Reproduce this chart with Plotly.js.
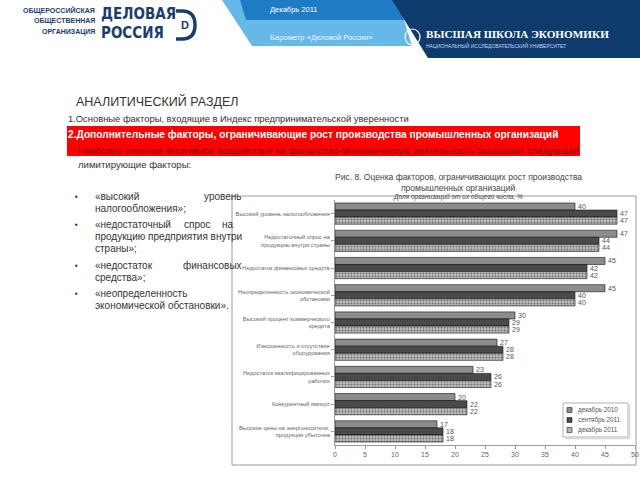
<!DOCTYPE html>
<html><head><meta charset="utf-8">
<script src="https://cdn.plot.ly/plotly-3.0.1.min.js"></script>
<style>html,body{margin:0;padding:0;background:#fff}#c{width:640px;height:480px}</style>
</head><body><div id="c"></div>
<script>
// ---- data ----
var categories = [
  "Высокий уровень налогообложения",
  "Недостаточный спрос на<br>продукцию внутри страны",
  "Недостаток финансовых средств",
  "Неопределенность экономической<br>обстановки",
  "Высокий процент коммерческого<br>кредита",
  "Изношенность и отсутствие<br>оборудования",
  "Недостаток квалифицированных<br>рабочих",
  "Конкурентный импорт",
  "Высокие цены на энергоносители,<br>продукция убыточна"
];
var seriesNames = ["декабрь 2010", "сентябрь 2011", "декабрь 2011"];
var dec2010 = [40, 47, 45, 45, 30, 27, 23, 20, 17];
var sep2011 = [47, 44, 42, 40, 29, 28, 26, 22, 18];
var dec2011 = [47, 44, 42, 40, 29, 28, 26, 22, 18];
var xTicks = [0, 5, 10, 15, 20, 25, 30, 35, 40, 45, 50];

// ---- layout helpers (pixel -> paper) ----
var L = 335, R = 635, T = 200, B = 445;
function px(x){ return (x - L) / (R - L); }
function py(y){ return (B - y) / (B - T); }
var FONT = "Liberation Sans, Arial, sans-serif";
var anns = [];
function ann(text, x, y, o){
  o = o || {};
  anns.push({text: text, xref: "paper", yref: "paper", x: px(x), y: py(y),
    xanchor: o.xa || "left", yanchor: o.ya || "middle", showarrow: false,
    align: o.align || "left",
    font: {family: o.family || FONT, size: o.size || 10, color: o.color || "#333"}});
}
var shapes = [];
function poly(pts, fill){
  var d = pts.map(function(p, i){ return (i ? "L" : "M") + px(p[0]) + "," + py(p[1]); }).join(" ") + " Z";
  shapes.push({type: "path", xref: "paper", yref: "paper", path: d, fillcolor: fill,
    line: {width: 0}, layer: "below"});
}
function rect(x0, y0, x1, y1, fill, line, lw, layer){
  shapes.push({type: "rect", xref: "paper", yref: "paper", x0: px(x0), y0: py(y0), x1: px(x1), y1: py(y1),
    fillcolor: fill, line: {width: lw === undefined ? 0 : lw, color: line || "rgba(0,0,0,0)"}, layer: layer || "below"});
}

// header
poly([[222,0],[398,0],[412,46],[252,46]], "#66b8e8");
poly([[240,0],[398,0],[404,20],[246,20]], "#1f7cc4");
poly([[392,0],[640,0],[640,58],[428,58]], "#0f3b6c");
var NARROW = "DejaVu Sans Condensed, Liberation Sans Narrow, sans-serif";
ann("<b>ОБЩЕРОССИЙСКАЯ</b>", 97, 10, {xa: "right", size: 7, color: "#1b3d6e"});
ann("<b>ОБЩЕСТВЕННАЯ</b>", 97, 21, {xa: "right", size: 7, color: "#1b3d6e"});
ann("<b>ОРГАНИЗАЦИЯ</b>", 97, 32, {xa: "right", size: 7, color: "#1b3d6e"});
ann("<b>ДЕЛОВАЯ</b>", 99, 14, {size: 15, color: "#1b3d6e", family: NARROW});
ann("<b>РОССИЯ</b>", 99, 33, {size: 15, color: "#1b3d6e", family: NARROW});
shapes.push({type: "path", xref: "paper", yref: "paper", layer: "above",
  path: "M" + px(176) + "," + py(11) + " L" + px(182) + "," + py(11) + " Q" + px(195) + "," + py(11) + " " + px(195) + "," + py(25) +
        " Q" + px(195) + "," + py(39) + " " + px(182) + "," + py(39) + " L" + px(176) + "," + py(39),
  fillcolor: "rgba(0,0,0,0)", line: {color: "#1b3d6e", width: 3.5}});
ann("<b>D</b>", 179, 25, {size: 11, color: "#1b3d6e"});
ann("Декабрь 2011", 268, 9, {size: 7.5, color: "#ffffff"});
ann("Барометр «Деловой России»", 268, 37, {size: 7.6, color: "#eaf6ff"});
shapes.push({type: "circle", xref: "paper", yref: "paper", x0: px(405), y0: py(45), x1: px(420), y1: py(29),
  fillcolor: "rgba(0,0,0,0)", line: {color: "#ffffff", width: 1.2}});
ann("<b>ВЫСШАЯ ШКОЛА ЭКОНОМИКИ</b>", 424, 34, {size: 11.2, color: "#ffffff", family: "Liberation Serif, serif"});
ann("НАЦИОНАЛЬНЫЙ ИССЛЕДОВАТЕЛЬСКИЙ УНИВЕРСИТЕТ", 424, 45, {size: 5, color: "#c8d6ea"});

// body text
ann("АНАЛИТИЧЕСКИЙ РАЗДЕЛ", 74, 101, {size: 12.5, color: "#333"});
ann("1.Основные факторы, входящие в Индекс предпринимательской уверенности", 66, 118, {size: 9.4, color: "#333"});
rect(67, 126, 580, 156, "#ff0000");
ann("<b>2.Дополнительные факторы, ограничивающие рост производства промышленных организаций</b>", 66, 134, {size: 10.2, color: "#ffffff"});
ann("Наиболее сильное негативное воздействие на финансово-экономическую деятельность оказывают следующие", 76, 150, {size: 9.6, color: "#7a1010"});
ann("лимитирующие факторы:", 76, 164, {size: 9.6, color: "#333"});

// bullets
[196, 224, 265, 293].forEach(function(y){ ann("▪", 73, y, {size: 8, color: "#222"}); });
ann("«высокий", 93, 196, {size: 10});
ann("уровень", 244, 196, {size: 10, xa: "right"});
ann("налогообложения»;", 93, 208, {size: 10});
ann("«недостаточный", 93, 224, {size: 10});
ann("спрос", 182, 224, {size: 10});
ann("на", 236, 224, {size: 10, xa: "right"});
ann("продукцию предприятия внутри", 93, 236, {size: 10});
ann("страны»;", 93, 248, {size: 10});
ann("«недостаток", 93, 265, {size: 10});
ann("финансовых", 244, 265, {size: 10, xa: "right"});
ann("средства»;", 93, 277, {size: 10});
ann("«неопределенность", 93, 293, {size: 10});
ann("экономической обстановки».", 93, 305, {size: 10});

// chart frame and titles
rect(232, 196, 636, 465, "rgba(0,0,0,0)", "#9a9a9a", 1);
ann("Рис. 8. Оценка факторов, ограничивающих рост производства", 458, 177, {xa: "center", size: 8.5, color: "#444"});
ann("промышленных организаций", 458, 188, {xa: "center", size: 8.5, color: "#444"});
ann("<i>Доля организаций от их общего числа, %</i>", 458, 197, {xa: "center", size: 6.5, color: "#444"});

// manual legend (keys + real text)
var legColors = ["#8c8c8c", "#4a4a4a", "#b4b4b4"];
rect(563, 403, 628, 437, "#ffffff", "#b0b0b0", 1, "above");
shapes.push({type: "line", xref: "paper", yref: "paper", x0: px(565), y0: py(438.5), x1: px(629.5), y1: py(438.5), line: {color: "#d8d8d8", width: 1.5}});
shapes.push({type: "line", xref: "paper", yref: "paper", x0: px(629.5), y0: py(405), x1: px(629.5), y1: py(438.5), line: {color: "#d8d8d8", width: 1.5}});
[410, 420, 430].forEach(function(y, i){
  rect(567, y - 2.5, 572, y + 2.5, legColors[i], "#222", 0.6, "above");
  ann(seriesNames[i], 576, y, {size: 6.3, color: "#555"});
});

function bar(name, vals, color, pattern){
  var m = {color: color, line: {color: "#111", width: 0.6}};
  if (pattern) m.pattern = pattern;
  return {type: "bar", orientation: "h", name: name, x: vals, y: categories,
    marker: m, text: vals.map(String), textposition: "outside", cliponaxis: false,
    textfont: {size: 7, color: "#555", family: FONT}, hoverinfo: "skip"};
}
var data = [
  bar(seriesNames[0], dec2010, legColors[0]),
  bar(seriesNames[1], sep2011, legColors[1]),
  bar(seriesNames[2], dec2011, legColors[2], {shape: ".", fgcolor: "#6e6e6e", bgcolor: "#bcbcbc", size: 3, solidity: 0.3})
];

var layout = {
  width: 640, height: 480,
  margin: {l: L, r: 640 - R, t: T, b: 480 - B, pad: 0, autoexpand: false},
  paper_bgcolor: "#ffffff", plot_bgcolor: "rgba(0,0,0,0)",
  barmode: "group", bargap: 0.22, bargroupgap: 0,
  font: {family: FONT},
  showlegend: false,
  xaxis: {range: [0, 50], tickvals: xTicks, ticktext: xTicks.map(String), showgrid: false,
    zeroline: false, showline: true, linecolor: "#999", ticks: "outside", ticklen: 3, tickcolor: "#999",
    tickfont: {size: 7, color: "#666"}, fixedrange: true, automargin: false},
  yaxis: {autorange: "reversed", type: "category", showgrid: false, showline: true, linecolor: "#999",
    ticks: "outside", ticklen: 3, tickcolor: "#999", tickfont: {size: 5.7, color: "#666"}, fixedrange: true, automargin: false},
  shapes: shapes,
  annotations: anns
};
Plotly.newPlot("c", data, layout, {staticPlot: true});
</script></body></html>
